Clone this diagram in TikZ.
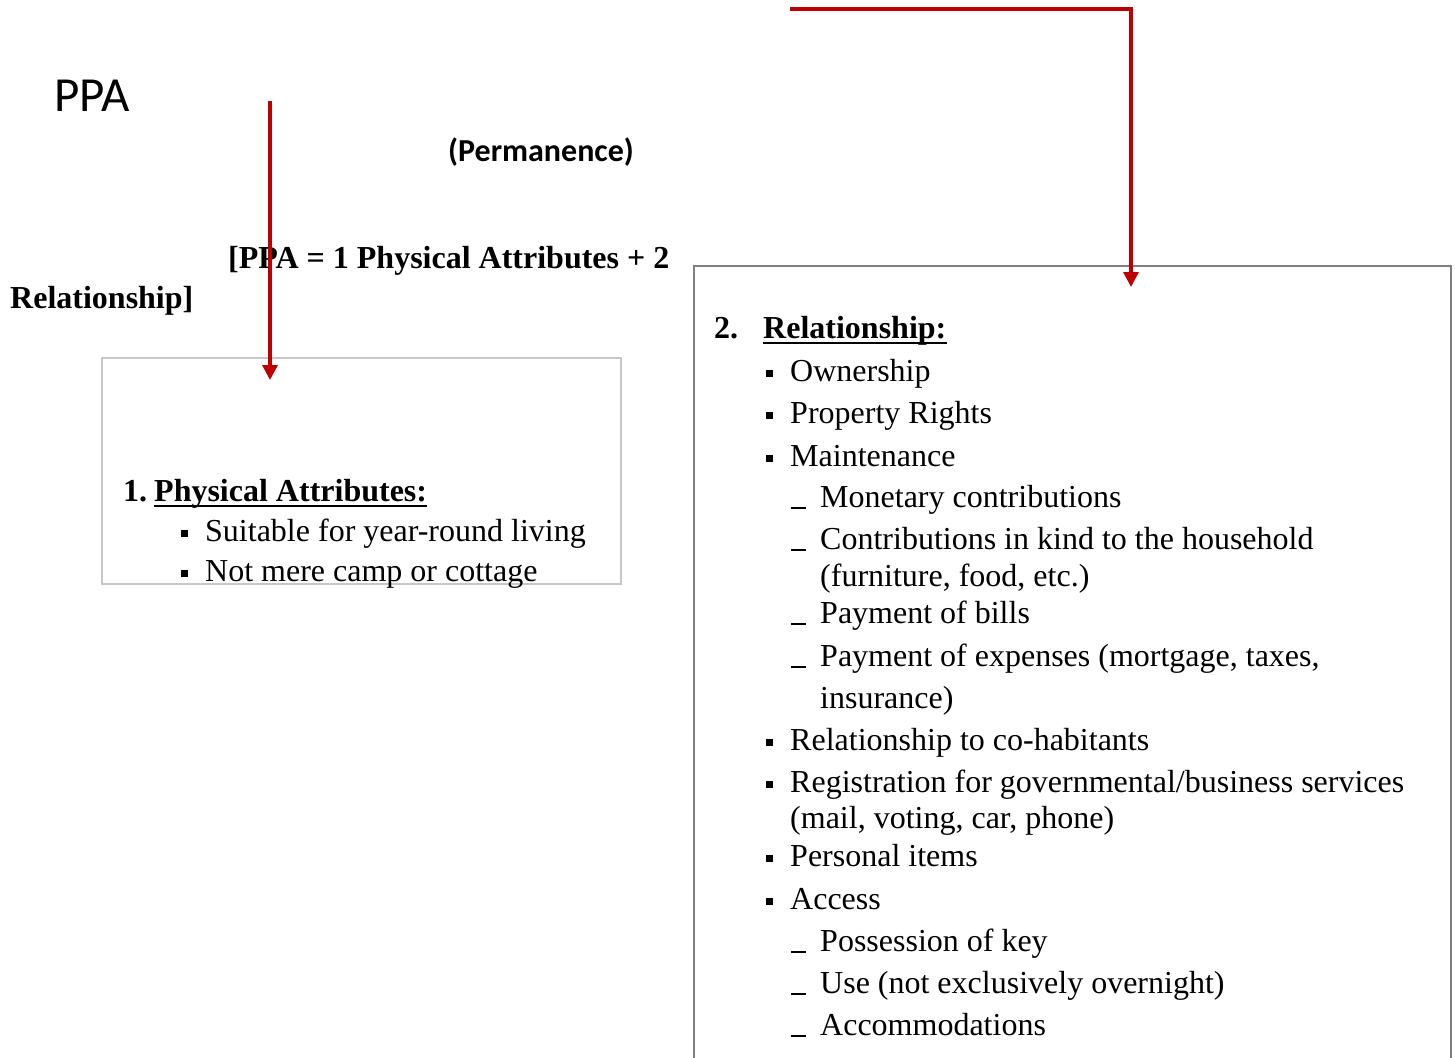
\documentclass[tikz,border=0pt]{standalone}
\usepackage{fontspec}
\setmainfont{Liberation Serif}
\newfontfamily\calibri{Carlito}
\usetikzlibrary{arrows.meta}
\definecolor{arrowred}{HTML}{C00000}
\newcommand\bodyfs{\fontsize{32}{38}\selectfont}
\newcommand\bulmark{\makebox[24pt][l]{\rule[4.5pt]{7pt}{7pt}}}
\newcommand\dashmark{\makebox[29pt][l]{\rule[-1.5pt]{15pt}{1.6pt}}}
\tikzset{
  txt/.style={anchor=base west, inner sep=0pt, font=\bodyfs},
  btxt/.style={anchor=base west, inner sep=0pt, font=\bodyfs\bfseries},
  redarrow/.style={draw=arrowred, line width=3.2pt, -{Triangle[length=15pt,width=15pt]}},
  lboxstyle/.style={draw=black!22, line width=1.3pt},
  rboxstyle/.style={draw=black!50, line width=1.5pt},
  uline/.style={line width=2.4pt}
}
\begin{document}
\begin{tikzpicture}[x=1pt,y=-1pt]
\fill[white] (0,0) rectangle (1455,1057);
\useasboundingbox (0,0) rectangle (1455,1057);

% boxes
\draw[lboxstyle] (102,358) rectangle (621,584);
\draw[rboxstyle] (694,1060) |- (1451,266) -- (1451,1060);

% titles
\node[anchor=base west, inner sep=0pt, font=\calibri\fontsize{49}{54}\selectfont] (ppa) at (54,111) {PPA};
\node[anchor=base west, inner sep=0pt, font=\calibri\bfseries\fontsize{32}{36}\selectfont] (perm) at (448,161) {(Permanence)};
\node[btxt] (f1) at (228,268) {[PPA = 1 Physical Attributes + 2};
\node[btxt] (f2) at (10,308) {Relationship]};

% left box content
\node[btxt] (n1) at (123,501) {1.};
\node[btxt] (pa) at (154,501) {Physical Attributes:};
\draw[uline] ([yshift=-5pt]pa.base west) -- ([yshift=-5pt]pa.base east);
\node[txt] (l1) at (181,541) {\bulmark Suitable for year-round living};
\node[txt] (l2) at (181,581) {\bulmark Not mere camp or cottage};

% right box content
\node[btxt] (n2) at (714,338) {2.};
\node[btxt] (rel) at (763,338) {Relationship:};
\draw[uline] ([yshift=-5pt]rel.base west) -- ([yshift=-5pt]rel.base east);
\node[txt] (r1) at (766,381) {\bulmark Ownership};
\node[txt] (r2) at (766,423) {\bulmark Property Rights};
\node[txt] (r3) at (766,466) {\bulmark Maintenance};
\node[txt] (s1) at (791,507) {\dashmark Monetary contributions};
\node[txt] (s2) at (791,549) {\dashmark Contributions in kind to the household};
\node[txt] (s2b) at (820,586) {(furniture, food, etc.)};
\node[txt] (s3) at (791,623) {\dashmark Payment of bills};
\node[txt] (s4) at (791,666) {\dashmark Payment of expenses (mortgage, taxes,};
\node[txt] (s4b) at (820,708) {insurance)};
\node[txt] (r4) at (766,750) {\bulmark Relationship to co-habitants};
\node[txt] (r5) at (766,792) {\bulmark Registration for governmental/business services};
\node[txt] (r5b) at (790,828) {(mail, voting, car, phone)};
\node[txt] (r6) at (766,866) {\bulmark Personal items};
\node[txt] (r7) at (766,909) {\bulmark Access};
\node[txt] (s5) at (791,951) {\dashmark Possession of key};
\node[txt] (s6) at (791,993) {\dashmark Use (not exclusively overnight)};
\node[txt] (s7) at (791,1035) {\dashmark Accommodations};

% arrows
\coordinate (a1s) at (270,101);
\coordinate (a1e) at (270,380);
\draw[redarrow] (a1s) -- (a1e);
\coordinate (a2s) at (790,9);
\coordinate (a2e) at (1131,287);
\draw[redarrow] (a2s) -| (a2e);
\end{tikzpicture}
\end{document}
